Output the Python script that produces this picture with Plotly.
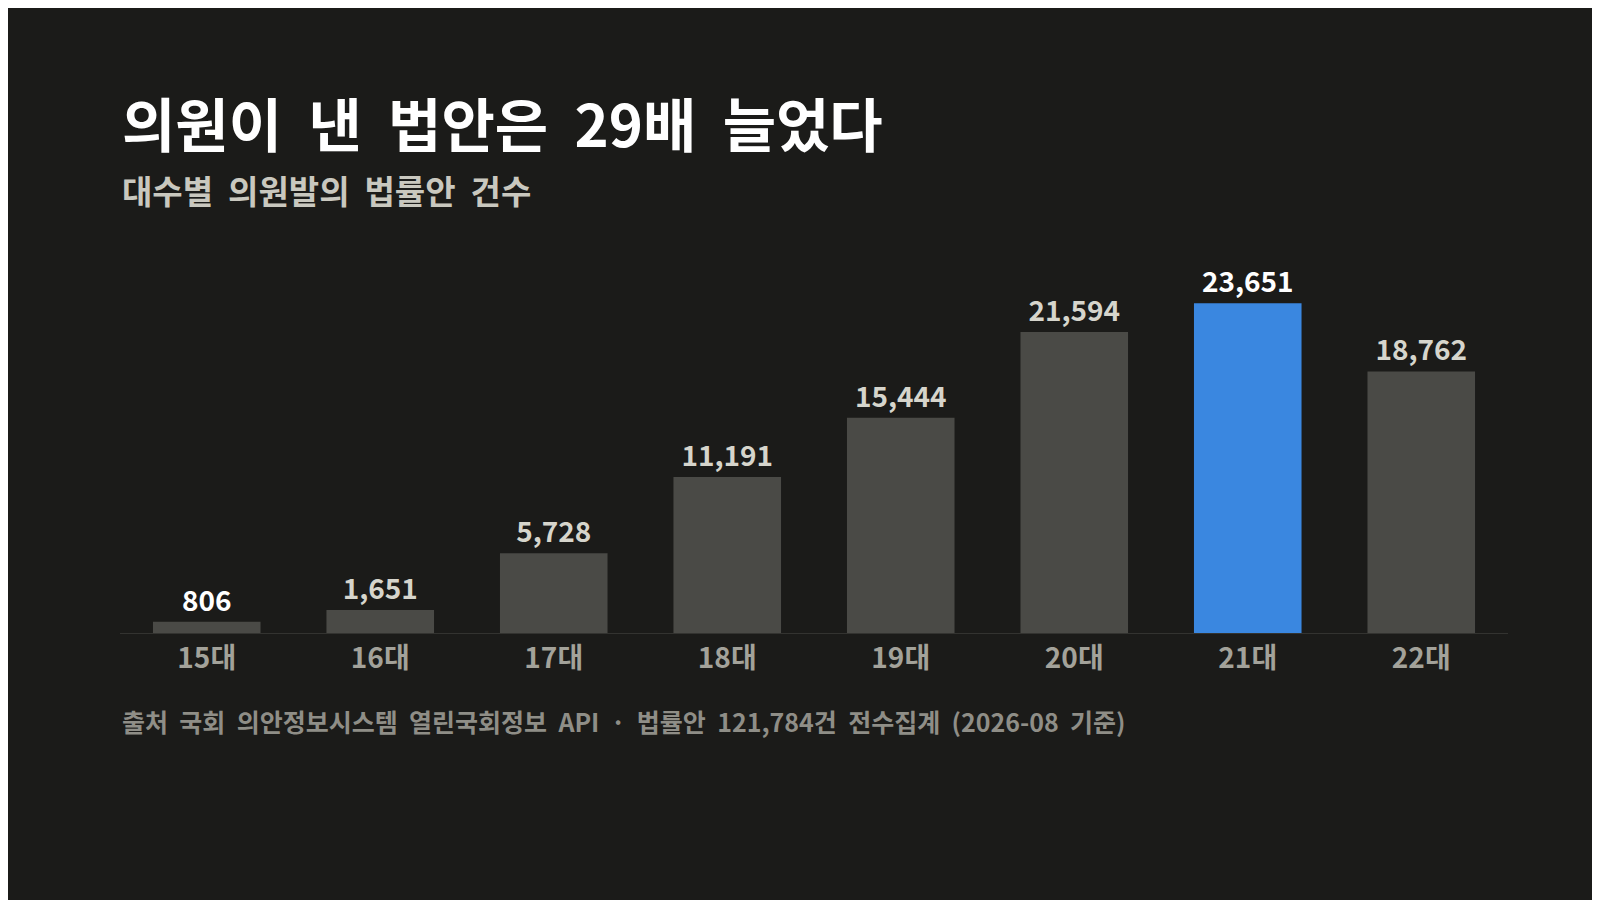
import plotly.graph_objects as go

categories = ["15대", "16대", "17대", "18대", "19대", "20대", "21대", "22대"]
values = [806, 1651, 5728, 11191, 15444, 21594, 23651, 18762]
label_text = ["806", "1,651", "5,728", "11,191", "15,444", "21,594", "23,651", "18,762"]

bar_colors = ["#3a87e0" if c == "21대" else "#4a4a46" for c in categories]
label_colors = ["#ffffff" if c in ("15대", "21대") else "#d6d5cc" for c in categories]

F = "Noto Sans CJK KR"
fig = go.Figure(go.Bar(
    x=categories, y=values, marker_color=bar_colors, marker_line_width=0,
    text=["<b>%s</b>" % t for t in label_text], textposition="outside", cliponaxis=False,
    textfont=dict(family=F, size=28, color=label_colors), hoverinfo="skip"))

fig.update_layout(
    width=1600, height=900, paper_bgcolor="#1b1b19", plot_bgcolor="#1b1b19",
    margin=dict(l=112, r=100, t=250, b=275), bargap=0.38, showlegend=False,
    font=dict(family=F),
    xaxis=dict(showgrid=False, showline=True, linecolor="#333330", linewidth=1,
               tickfont=dict(family=F, size=28, color="#a3a29a"), ticks="",
               tickvals=categories, ticktext=["<b>%s</b>" % c for c in categories]),
    yaxis=dict(visible=False, range=[0, 26900]),
    annotations=[
        dict(text="<b>의원이  낸  법안은  29배  늘었다</b>", x=0, y=1, xref="paper", yref="paper",
             xanchor="left", yanchor="bottom", yshift=92, showarrow=False,
             font=dict(family=F, size=58, color="#ffffff")),
        dict(text="<b>대수별  의원발의  법률안  건수</b>", x=0, y=1, xref="paper", yref="paper",
             xanchor="left", yanchor="bottom", yshift=42, showarrow=False,
             font=dict(family=F, size=33, color="#c9c8bf")),
        dict(text="<b>출처  국회  의안정보시스템  열린국회정보  API  ·  법률안  121,784건  전수집계  (2026-08  기준)</b>",
             x=0, y=0, xref="paper", yref="paper", xanchor="left", yanchor="top", yshift=-68,
             showarrow=False, font=dict(family=F, size=25, color="#8f8e87")),
    ])
fig.write_html("out.html")
